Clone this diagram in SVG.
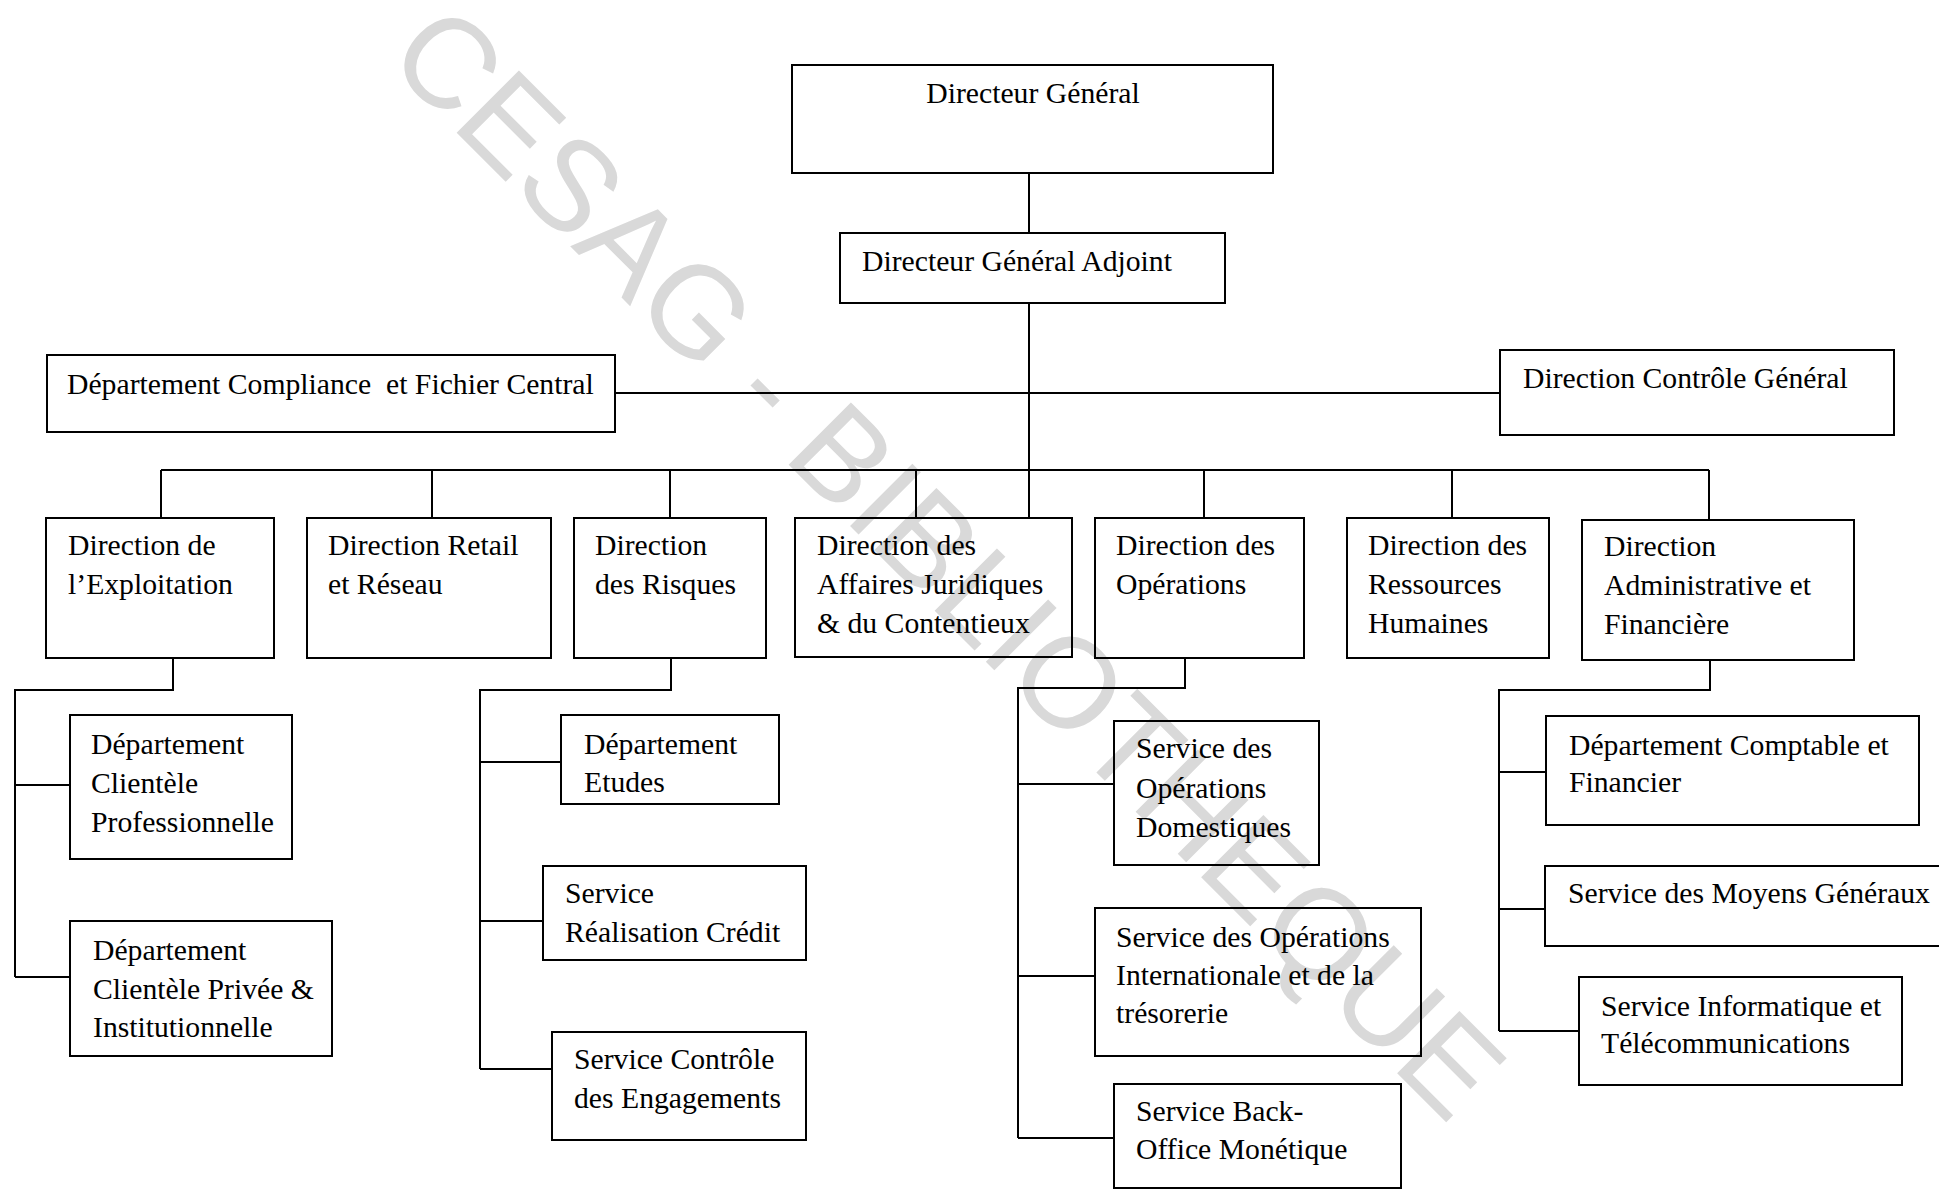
<svg xmlns="http://www.w3.org/2000/svg" width="1939" height="1191" viewBox="0 0 1939 1191">
<style>
.b{fill:none;stroke:#000;stroke-width:2}
.c{fill:none;stroke:#000;stroke-width:2}
text.t{font-family:"Liberation Serif","Times New Roman",serif;font-size:29.7px;fill:#000}
.wm{font-family:"Liberation Sans",Arial,sans-serif;font-size:128px;fill:#d9d9d9}
</style>
<rect x="0" y="0" width="1939" height="1191" fill="#fff"/>
<text class="wm" x="384" y="60" transform="rotate(45 384 60)">CESAG - BIBLIOTHEQUE</text>

<g id="connectors">
<path class="c" d="M1029 173V232"/>
<path class="c" d="M1029 303V518"/>
<path class="c" d="M615 393H1500"/>
<path class="c" d="M161 470H1709"/>
<path class="c" d="M161 470V518M432 470V518M670 470V518M916 470V518M1204 470V518M1452 470V518M1709 470V520"/>
<path class="c" d="M173 658V690H15V977M15 785H70M15 977H70"/>
<path class="c" d="M671 658V690H480V1069M480 762H561M480 921H543M480 1069H552"/>
<path class="c" d="M1185 658V688H1018V1138M1018 784H1114M1018 976H1095M1018 1138H1114"/>
<path class="c" d="M1710 660V690H1499V1031M1499 772H1546M1499 909H1545M1499 1031H1579"/>
</g>

<g id="n-dg"><rect class="b" x="792" y="65" width="481" height="108"/>
<text class="t" x="1033" y="103" text-anchor="middle">Directeur Général</text></g>
<g id="n-dga"><rect class="b" x="840" y="233" width="385" height="70"/>
<text class="t" x="862" y="271">Directeur Général Adjoint</text></g>
<g id="n-compliance"><rect class="b" x="47" y="355" width="568" height="77"/>
<text class="t" x="67" y="394" xml:space="preserve">Département Compliance  et Fichier Central</text></g>
<g id="n-controle"><rect class="b" x="1500" y="350" width="394" height="85"/>
<text class="t" x="1523" y="388">Direction Contrôle Général</text></g>

<g id="n-exploitation"><rect class="b" x="46" y="518" width="228" height="140"/>
<text class="t" x="68" y="555">Direction de</text><text class="t" x="68" y="594">l’Exploitation</text></g>
<g id="n-retail"><rect class="b" x="307" y="518" width="244" height="140"/>
<text class="t" x="328" y="555">Direction Retail</text><text class="t" x="328" y="594">et Réseau</text></g>
<g id="n-risques"><rect class="b" x="574" y="518" width="192" height="140"/>
<text class="t" x="595" y="555">Direction</text><text class="t" x="595" y="594">des Risques</text></g>
<g id="n-juridiques"><rect class="b" x="795" y="518" width="277" height="139"/>
<text class="t" x="817" y="555">Direction des</text><text class="t" x="817" y="594">Affaires Juridiques</text><text class="t" x="817" y="633">&amp; du Contentieux</text></g>
<g id="n-operations"><rect class="b" x="1095" y="518" width="209" height="140"/>
<text class="t" x="1116" y="555">Direction des</text><text class="t" x="1116" y="594">Opérations</text></g>
<g id="n-rh"><rect class="b" x="1347" y="518" width="202" height="140"/>
<text class="t" x="1368" y="555">Direction des</text><text class="t" x="1368" y="594">Ressources</text><text class="t" x="1368" y="633">Humaines</text></g>
<g id="n-daf"><rect class="b" x="1582" y="520" width="272" height="140"/>
<text class="t" x="1604" y="556">Direction</text><text class="t" x="1604" y="595">Administrative et</text><text class="t" x="1604" y="634">Financière</text></g>

<g id="n-dcp"><rect class="b" x="70" y="715" width="222" height="144"/>
<text class="t" x="91" y="754">Département</text><text class="t" x="91" y="793">Clientèle</text><text class="t" x="91" y="832">Professionnelle</text></g>
<g id="n-dcpi"><rect class="b" x="70" y="921" width="262" height="135"/>
<text class="t" x="93" y="960">Département</text><text class="t" x="93" y="999">Clientèle Privée &amp;</text><text class="t" x="93" y="1037">Institutionnelle</text></g>
<g id="n-etudes"><rect class="b" x="561" y="715" width="218" height="89"/>
<text class="t" x="584" y="754">Département</text><text class="t" x="584" y="792">Etudes</text></g>
<g id="n-realisation"><rect class="b" x="543" y="866" width="263" height="94"/>
<text class="t" x="565" y="903">Service</text><text class="t" x="565" y="942">Réalisation Crédit</text></g>
<g id="n-engagements"><rect class="b" x="552" y="1032" width="254" height="108"/>
<text class="t" x="574" y="1069">Service Contrôle</text><text class="t" x="574" y="1108">des Engagements</text></g>

<g id="n-domestiques"><rect class="b" x="1114" y="721" width="205" height="144"/>
<text class="t" x="1136" y="758">Service des</text><text class="t" x="1136" y="798">Opérations</text><text class="t" x="1136" y="837">Domestiques</text></g>
<g id="n-international"><rect class="b" x="1095" y="908" width="326" height="148"/>
<text class="t" x="1116" y="947">Service des Opérations</text><text class="t" x="1116" y="985">Internationale et de la</text><text class="t" x="1116" y="1023">trésorerie</text></g>
<g id="n-monetique"><rect class="b" x="1114" y="1084" width="287" height="104"/>
<text class="t" x="1136" y="1121">Service Back-</text><text class="t" x="1136" y="1159">Office Monétique</text></g>

<g id="n-comptable"><rect class="b" x="1546" y="716" width="373" height="109"/>
<text class="t" x="1569" y="755">Département Comptable et</text><text class="t" x="1569" y="792">Financier</text></g>
<g id="n-moyens"><rect class="b" x="1545" y="866" width="420" height="80"/>
<text class="t" x="1568" y="903">Service des Moyens Généraux</text></g>
<g id="n-informatique"><rect class="b" x="1579" y="977" width="323" height="108"/>
<text class="t" x="1601" y="1016">Service Informatique et</text><text class="t" x="1601" y="1053">Télécommunications</text></g>
</svg>
